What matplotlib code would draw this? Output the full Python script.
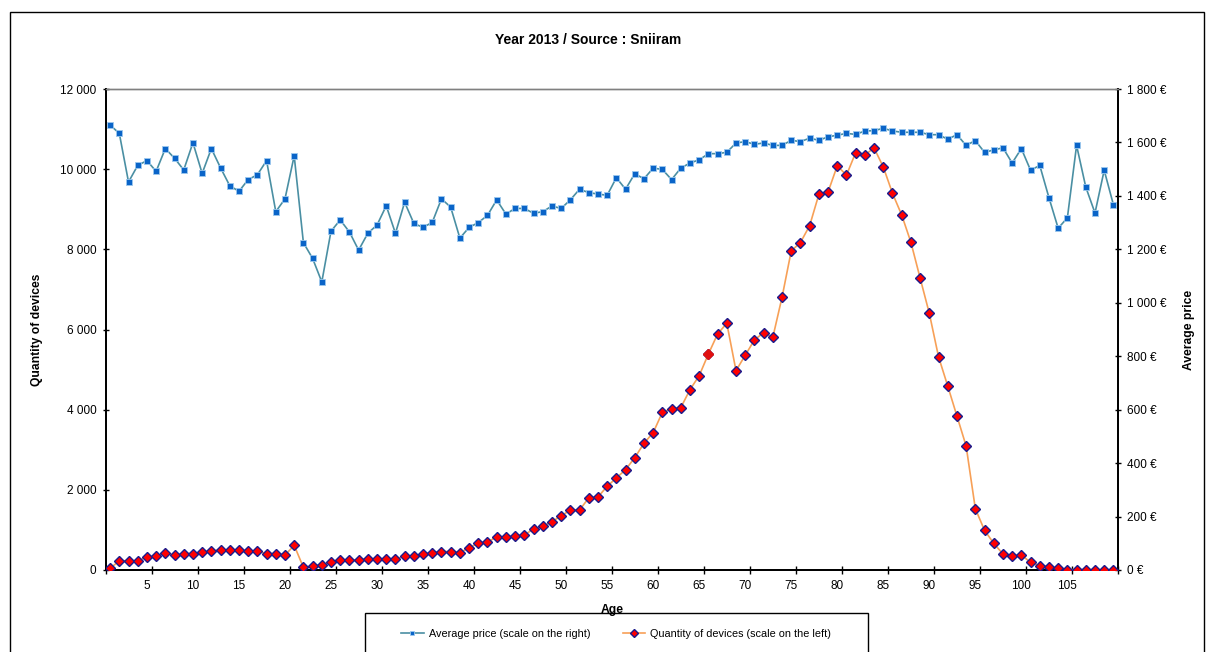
import numpy as np
import matplotlib
matplotlib.use('Agg')
import matplotlib.pyplot as plt
from matplotlib.patches import Rectangle

plt.rcParams['font.family'] = ['Liberation Sans', 'DejaVu Sans']

ages = list(range(1, 111))

quantity = [
    40, 230, 230, 230, 320, 340, 430, 370, 410, 410,
    440, 470, 500, 500, 490, 470, 470, 410, 410, 370,
    615, 65, 90, 130, 200, 250, 250, 250, 280, 280,
    280, 280, 340, 340, 400, 430, 460, 460, 432, 556,
    666, 699, 823, 823, 848, 873, 1023, 1090, 1206, 1347,
    1497, 1497, 1796, 1821, 2088, 2295, 2503, 2802, 3161, 3426,
    3934, 4025, 4050, 4499, 4848, 5389, 5888, 6155, 4973, 5357,
    5739, 5921, 5805, 6804, 7959, 8170, 8590, 9370, 9431, 10085,
    9850, 10412, 10354, 10529, 10055, 9398, 8857, 8176, 7285, 6404,
    5322, 4591, 3842, 3094, 1530, 990, 666, 399, 349, 374,
    191, 108, 83, 42, 10, 10, 10, 10, 0, 10,
]

price = [
    1665, 1634, 1452, 1514, 1532, 1492, 1577, 1541, 1497, 1599,
    1484, 1577, 1505, 1438, 1417, 1461, 1479, 1532, 1341, 1389,
    1550, 1225, 1166, 1078, 1268, 1310, 1265, 1197, 1260, 1291,
    1363, 1260, 1376, 1297, 1282, 1301, 1389, 1358, 1242, 1282,
    1300, 1327, 1385, 1332, 1353, 1353, 1335, 1341, 1362, 1353,
    1385, 1425, 1412, 1407, 1402, 1468, 1425, 1483, 1464, 1504,
    1499, 1461, 1504, 1523, 1535, 1558, 1558, 1563, 1598, 1603,
    1593, 1598, 1589, 1589, 1608, 1603, 1616, 1608, 1621, 1627,
    1634, 1630, 1643, 1644, 1653, 1643, 1638, 1638, 1638, 1629,
    1629, 1612, 1629, 1589, 1607, 1563, 1572, 1580, 1523, 1577,
    1496, 1514, 1393, 1279, 1318, 1589, 1433, 1336, 1496, 1367,
]

qty_ticks  = [0, 2000, 4000, 6000, 8000, 10000, 12000]
qty_labels = ['0', '2 000', '4 000', '6 000', '8 000', '10 000', '12 000']
eur_ticks  = [0, 200, 400, 600, 800, 1000, 1200, 1400, 1600, 1800]
eur_labels = ['0 €', '200 €', '400 €', '600 €', '800 €', '1 000 €',
              '1 200 €', '1 400 €', '1 600 €', '1 800 €']
age_ticks  = list(range(5, 110, 5))

fig = plt.figure(figsize=(12.06, 6.52), dpi=100)
ax  = fig.add_axes([105.5 / 1206, 82 / 652, (1118 - 105.5) / 1206, (570 - 89) / 652])
ax2 = ax.twinx()

ax2.plot(ages, price, color='#4a8fa3', lw=1.2, marker='s', ms=4.3,
         mfc='#0a64c8', mec='#9cc8ee', mew=0.6, zorder=2,
         label='Average price (scale on the right)')
ax.plot(ages, quantity, color='#f7a057', lw=1.2, marker='D', ms=5.4,
        mfc='#ff0000', mec='#1a1a8c', mew=1.0, zorder=3,
        label='Quantity of devices (scale on the left)')
# one point in the source is drawn without the navy outline
ax.plot(ages[65], quantity[65], ls='none', marker='D', ms=5.4,
        mfc='#e01010', mec='#e01010', mew=1.0, zorder=4)
ax.set_zorder(ax2.get_zorder() + 1)
ax.patch.set_visible(False)

ax.set_xlim(0.5, 110.5)
ax.set_ylim(0, 12000)
ax2.set_ylim(0, 1800)

ax.set_xticks(age_ticks)
ax.set_xticklabels([str(a) for a in age_ticks])
ax.set_xticks([a + 0.5 for a in range(0, 110, 5)] + [110.5], minor=True)
ax.tick_params(axis='x', which='major', length=0, pad=7, labelsize=8.5)
ax.tick_params(axis='x', which='minor', length=6, direction='inout', width=1)

ax.set_yticks(qty_ticks)
ax.set_yticklabels(qty_labels)
ax.tick_params(axis='y', length=5, direction='inout', width=1, labelsize=8.5, pad=4)
ax2.set_yticks(eur_ticks)
ax2.set_yticklabels(eur_labels)
ax2.tick_params(axis='y', length=5, direction='inout', width=1, labelsize=8.5, pad=4)

for a in (ax, ax2):
    for side in ('left', 'right', 'bottom'):
        a.spines[side].set_color('black')
        a.spines[side].set_linewidth(1.3)
    a.spines['top'].set_color('#808080')
    a.spines['top'].set_linewidth(1.0)

ax.set_ylabel('Quantity of devices', fontsize=8.7, fontweight='bold', labelpad=12)
ax2.set_ylabel('Average price', fontsize=8.7, fontweight='bold', labelpad=12)
ax.set_xlabel('Age', fontsize=8.7, fontweight='bold', labelpad=9)

fig.text(588 / 1206, 1 - 40 / 652, 'Year 2013 / Source : Sniiram',
         ha='center', va='center', fontsize=10, fontweight='bold')

# outer chart frame and legend box (both run past the bottom edge)
fig.patches.append(Rectangle((10 / 1206, -0.1), (1204 - 10) / 1206, 1 - 12 / 652 + 0.1,
                             transform=fig.transFigure, fill=False,
                             edgecolor='black', lw=1.0))
fig.patches.append(Rectangle((365 / 1206, -0.1), (868 - 365) / 1206, (652 - 613) / 652 + 0.1,
                             transform=fig.transFigure, fill=False,
                             edgecolor='black', lw=1.0))

h1, l1 = ax2.get_legend_handles_labels()
h2, l2 = ax.get_legend_handles_labels()
fig.legend(h1 + h2, l1 + l2,
           loc='center', bbox_to_anchor=(616 / 1206, 1 - 634 / 652), ncol=2,
           frameon=False, fontsize=7.8, handlelength=2.1, handletextpad=0.45,
           columnspacing=3.0, markerscale=0.8)

plt.savefig('out.png', dpi=100)
plt.close()
